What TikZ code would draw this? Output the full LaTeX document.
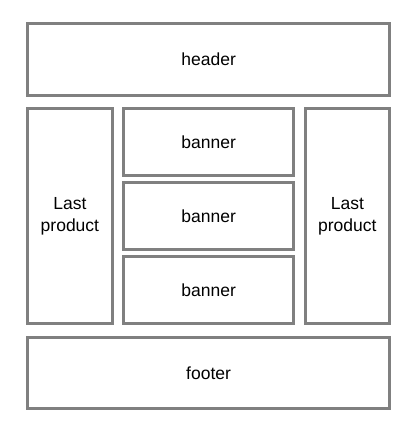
\documentclass[tikz,border=0pt]{standalone}
\usepackage{fontspec}
\setmainfont{Liberation Sans}
\definecolor{boxgray}{RGB}{128,128,128}
\begin{document}
\begin{tikzpicture}[x=1bp,y=-1bp,
  box/.style={draw=boxgray, line width=3bp, rectangle, inner sep=0pt, outer sep=0pt,
    align=center, text=black, font=\fontsize{17.5bp}{22bp}\selectfont}]
\useasboundingbox (0,0) rectangle (419,434);
\node[box, minimum width=362.2bp, minimum height=72bp] (header) at (208.6,59.5) {header};
\node[box, minimum width=84.8bp, minimum height=214.8bp] (left) at (69.9,216.1) {Last\\product};
\node[box, minimum width=170bp, minimum height=66.6bp] (banner1) at (208.7,142) {banner};
\node[box, minimum width=170bp, minimum height=66.7bp] (banner2) at (208.7,216.35) {banner};
\node[box, minimum width=170bp, minimum height=67.2bp] (banner3) at (208.7,289.9) {banner};
\node[box, minimum width=84.7bp, minimum height=214.8bp] (right) at (347.35,216.1) {Last\\product};
\node[box, minimum width=362.2bp, minimum height=71.5bp] (footer) at (208.6,372.75) {footer};
\end{tikzpicture}
\end{document}
